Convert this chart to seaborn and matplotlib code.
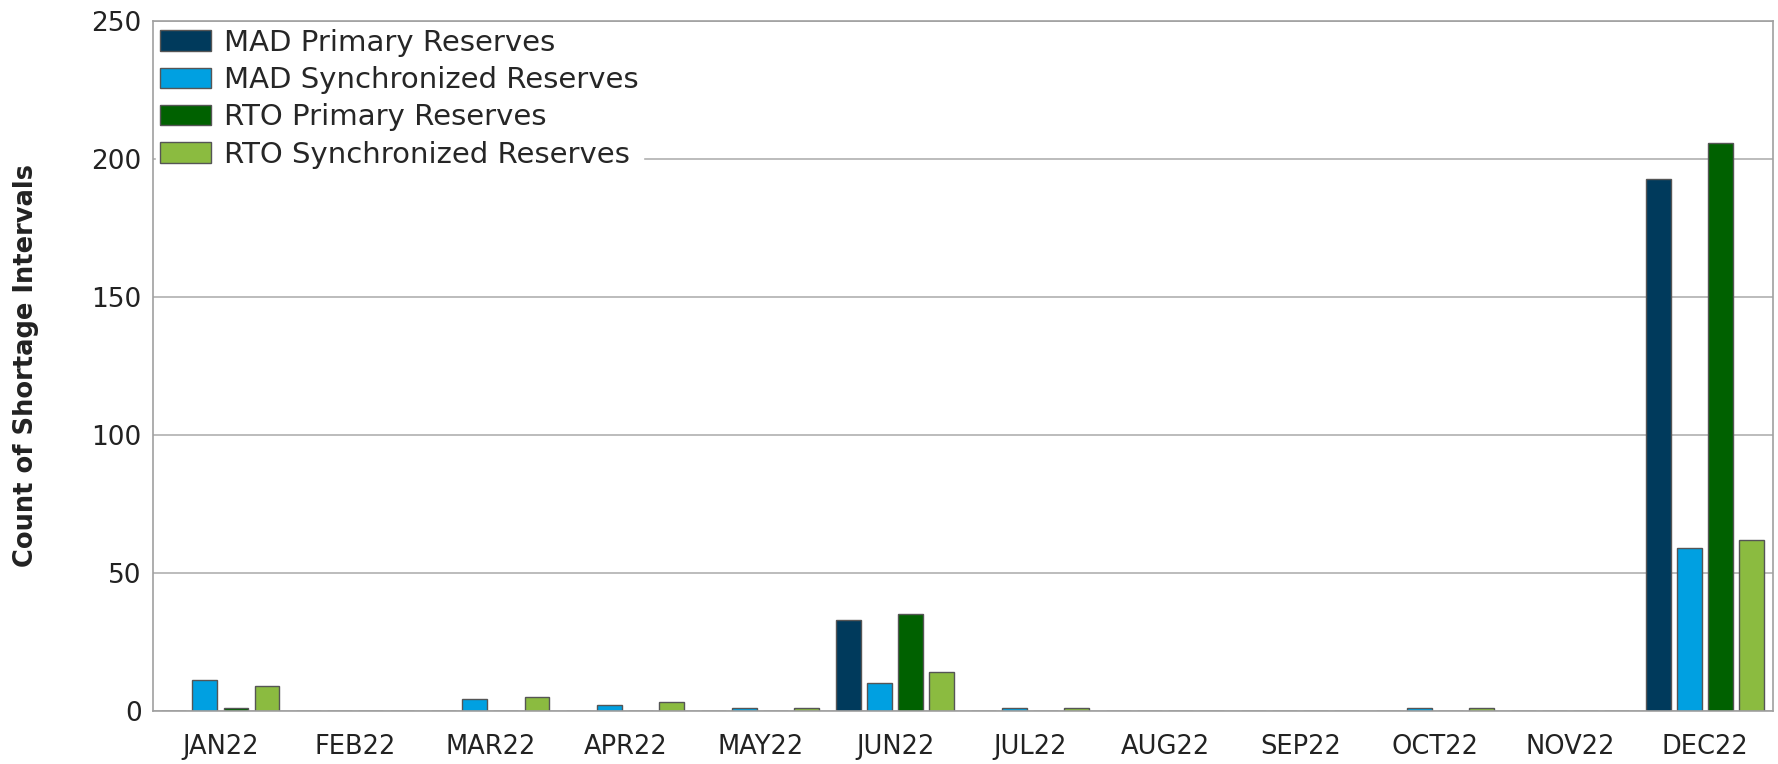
import pandas as pd
import matplotlib.pyplot as plt
import seaborn as sns

months = ['JAN22', 'FEB22', 'MAR22', 'APR22', 'MAY22', 'JUN22',
          'JUL22', 'AUG22', 'SEP22', 'OCT22', 'NOV22', 'DEC22']
series = ['MAD Primary Reserves', 'MAD Synchronized Reserves',
          'RTO Primary Reserves', 'RTO Synchronized Reserves']

mad_primary = [0, 0, 0, 0, 0, 33, 0, 0, 0, 0, 0, 193]
mad_sync = [11, 0, 4, 2, 1, 10, 1, 0, 0, 1, 0, 59]
rto_primary = [1, 0, 0, 0, 0, 35, 0, 0, 0, 0, 0, 206]
rto_sync = [9, 0, 5, 3, 1, 14, 1, 0, 0, 1, 0, 62]

colors = ['#003A5C', '#00A0E1', '#006100', '#8BBB40']

# Long-Format fuer seaborn
rows = []
for name, vals in zip(series, [mad_primary, mad_sync, rto_primary, rto_sync]):
    for m, v in zip(months, vals):
        rows.append({'Month': m, 'Series': name, 'Count': v})
df = pd.DataFrame(rows)

sns.set_style('white')
plt.rcParams['font.family'] = ['DejaVu Sans']

fig, ax = plt.subplots(figsize=(17.78, 7.64), dpi=100)
sns.barplot(data=df, x='Month', y='Count', hue='Series', hue_order=series,
            order=months, palette=colors, width=0.92, gap=0.2,
            edgecolor='#555555', linewidth=1.0, saturation=1, ax=ax)

ax.set_ylim(0, 250)
ax.set_yticks(range(0, 251, 50))
ax.set_xlim(-0.5, 11.5)
ax.yaxis.grid(True, color='#b0b0b0', linewidth=1.2)
ax.set_axisbelow(True)
for s in ax.spines.values():
    s.set_color('#a0a0a0')
    s.set_linewidth(1.2)

ax.tick_params(axis='y', length=5, color='#a0a0a0', labelsize=19, colors='#222222', pad=3)
ax.tick_params(axis='x', length=0, labelsize=18.5, colors='#222222', pad=17)
ax.set_xlabel('')
ax.set_ylabel('Count of Shortage Intervals', fontsize=18.5, fontweight='bold',
              labelpad=38, color='#222222')

leg = ax.legend(loc='upper left', fontsize=21, frameon=True, framealpha=1,
                edgecolor='white', facecolor='white', handlelength=1.75,
                handleheight=0.7, labelspacing=0.32, borderaxespad=0.1,
                handletextpad=0.45, borderpad=0.15)

plt.subplots_adjust(left=0.086, right=0.997, top=0.972, bottom=0.07)
plt.savefig('out.png', dpi=100)
